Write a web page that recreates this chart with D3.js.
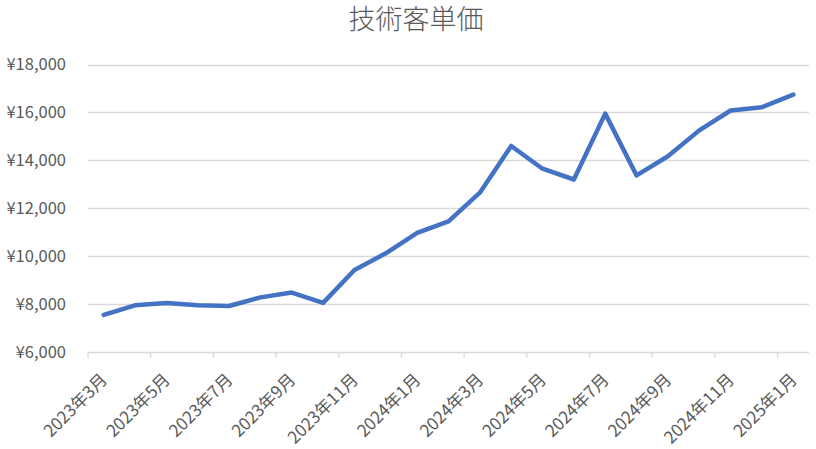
<!DOCTYPE html>
<html><head><meta charset="utf-8">
<script src="https://cdn.jsdelivr.net/npm/d3@7"></script>
<style>
html,body{margin:0;padding:0;background:#fff;}
svg{display:block;font-family:"Noto Sans CJK JP","Noto Sans",sans-serif;}
</style></head>
<body>
<svg id="chart" width="816" height="449"></svg>
<script>
const title = "技術客単価";
const months = ["2023年3月","2023年4月","2023年5月","2023年6月","2023年7月","2023年8月","2023年9月","2023年10月","2023年11月","2023年12月","2024年1月","2024年2月","2024年3月","2024年4月","2024年5月","2024年6月","2024年7月","2024年8月","2024年9月","2024年10月","2024年11月","2024年12月","2025年1月"];
const values = [7550,7950,8050,7950,7920,8280,8480,8050,9420,10120,10970,11450,12650,14600,13650,13200,15950,13370,14170,15250,16080,16220,16740];
const yTicks = [6000,8000,10000,12000,14000,16000,18000];

const svg = d3.select("#chart");
const m = {left:88, right:816-809, top:64.5, bottom:449-352};
const W = 816, H = 449;

const x = d3.scaleBand().domain(months).range([m.left, W - m.right]).paddingInner(0).paddingOuter(0);
const y = d3.scaleLinear().domain([6000,18000]).range([H - m.bottom, m.top]);

svg.append("text").attr("x", 416).attr("y", 29).attr("text-anchor","middle")
  .attr("font-size", 27).attr("font-weight", 300).attr("fill","#595959").text(title);

// gridlines
svg.append("g").selectAll("line").data(yTicks.filter(d=>d!==6000)).join("line")
  .attr("x1", m.left).attr("x2", W - m.right)
  .attr("y1", d=>Math.round(y(d))+0.5).attr("y2", d=>Math.round(y(d))+0.5)
  .attr("stroke","#d9d9d9").attr("stroke-width",1.3);

// y labels
const fmt = d => "¥" + d3.format(",")(d);
svg.append("g").selectAll("text").data(yTicks).join("text")
  .attr("x", 66).attr("y", d=>y(d)).attr("dy","0.35em").attr("text-anchor","end")
  .attr("font-size", 16.5).attr("fill","#595959").text(fmt);

// x axis line and ticks
const ax = svg.append("g");
const yb = Math.round(y(6000))+0.5;
ax.append("line").attr("x1", m.left).attr("x2", W - m.right).attr("y1", yb).attr("y2", yb)
  .attr("stroke","#d9d9d9").attr("stroke-width",1.3);
const tickIdx = d3.range(0, months.length+1, 2);
ax.selectAll("line.t").data(tickIdx).join("line").attr("class","t")
  .attr("x1", i => i < months.length ? x(months[i]) : W - m.right)
  .attr("x2", i => i < months.length ? x(months[i]) : W - m.right)
  .attr("y1", yb).attr("y2", yb+5).attr("stroke","#d9d9d9").attr("stroke-width",1.3);

// x labels
ax.selectAll("text").data(months.filter((d,i)=>i%2===0)).join("text")
  .attr("transform", d => `translate(${x(d)+x.bandwidth()/2+0.5},${yb+24}) rotate(-45)`)
  .attr("text-anchor","end").attr("dy","0.35em")
  .attr("font-size", 17).attr("fill","#595959").text(d=>d);

// line
const line = d3.line().x((d,i)=>x(months[i])+x.bandwidth()/2).y(d=>y(d));
svg.append("path").datum(values).attr("d", line)
  .attr("fill","none").attr("stroke","#4472C4").attr("stroke-width",4.5)
  .attr("stroke-linejoin","round").attr("stroke-linecap","round");
</script>
</body></html>
